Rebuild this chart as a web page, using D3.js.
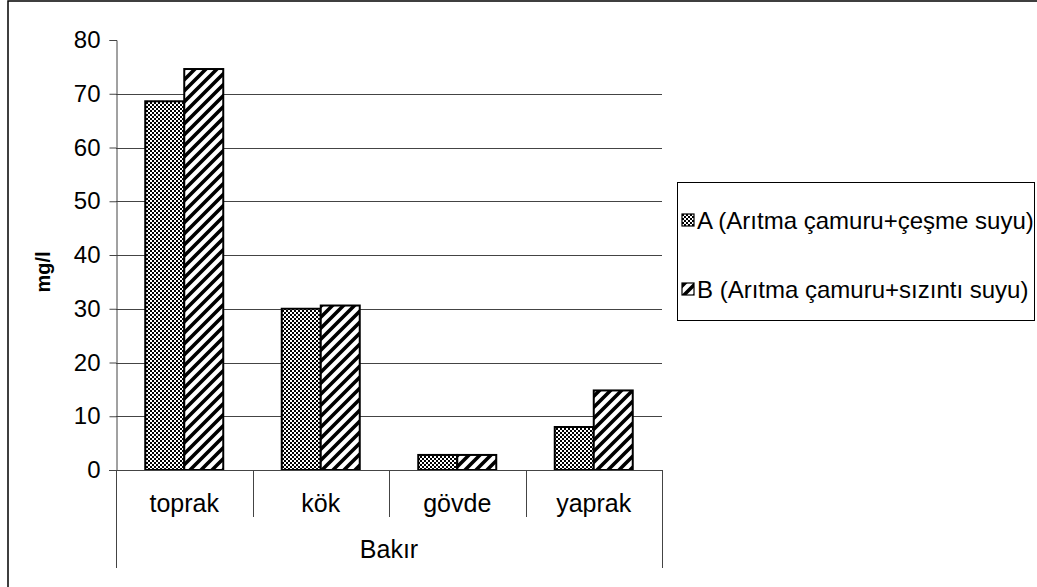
<!DOCTYPE html>
<html>
<head>
<meta charset="utf-8">
<script src="https://cdn.jsdelivr.net/npm/d3@7/dist/d3.min.js"></script>
<style>
  html, body { margin: 0; padding: 0; background: #fff; }
  svg { display: block; font-family: "Liberation Sans", Arial, sans-serif; }
</style>
</head>
<body>
<svg id="chart" width="1037" height="587"></svg>
<script>
// Copper (Bakır) concentration by plant part
const categories = ["toprak", "kök", "gövde", "yaprak"];
const seriesNames = ["A (Arıtma çamuru+çeşme suyu)", "B (Arıtma çamuru+sızıntı suyu)"];
const valuesA = [68.6, 30.0, 2.8, 8.0];
const valuesB = [74.6, 30.6, 2.8, 14.8];
const yTicks = [0, 10, 20, 30, 40, 50, 60, 70, 80];
const groupLabel = "Bakır";
const yLabel = "mg/l";

const svg = d3.select("#chart");
const W = 1037, H = 587;
const FS = 24;

// Patterns: fine checker for A, wide upward diagonal for B
const defs = svg.append("defs");
const chk = defs.append("pattern").attr("id", "pA")
  .attr("patternUnits", "userSpaceOnUse").attr("width", 4).attr("height", 4);
chk.append("rect").attr("width", 4).attr("height", 4).attr("fill", "#fff");
chk.append("rect").attr("width", 2).attr("height", 2).attr("fill", "#000");
chk.append("rect").attr("x", 2).attr("y", 2).attr("width", 2).attr("height", 2).attr("fill", "#000");

const dg = defs.append("pattern").attr("id", "pB")
  .attr("patternUnits", "userSpaceOnUse").attr("width", 11).attr("height", 11);
dg.append("rect").attr("width", 11).attr("height", 11).attr("fill", "#fff");
dg.append("path").attr("d", "M-3,14 L14,-3 M-14,14 L3,-3 M8,14 L25,-3")
  .attr("stroke", "#000").attr("stroke-width", 3.6);

const fills = ["url(#pA)", "url(#pB)"];

// Outer chart frame (extends past the right and bottom edges)
svg.append("rect").attr("x", 8).attr("y", 1).attr("width", W + 20).attr("height", H + 20)
  .attr("fill", "none").attr("stroke", "#000").attr("stroke-width", 1.5);

const plot = { left: 116, right: 662, top: 40, bottom: 470 };

const x = d3.scaleBand().domain(categories).range([plot.left, plot.right]).paddingInner(0).paddingOuter(0);
const y = d3.scaleLinear().domain([0, 80]).range([plot.bottom, plot.top]);
const bw = x.bandwidth() / 3.5;
const xs = d3.scaleBand().domain([0, 1]).range([0.75 * bw, 2.75 * bw]).padding(0);

// Gridlines
svg.append("g").selectAll("line").data(yTicks.filter(t => t > 0 && t < 80)).join("line")
  .attr("x1", plot.left).attr("x2", plot.right)
  .attr("y1", d => Math.round(y(d)) + 0.5).attr("y2", d => Math.round(y(d)) + 0.5)
  .attr("stroke", "#444").attr("stroke-width", 1);

// Y axis
const yAxis = svg.append("g").attr("transform", `translate(${plot.left + 0.5},0)`)
  .call(d3.axisLeft(y).tickValues(yTicks).tickSize(7).tickPadding(9).tickFormat(d3.format("d")));
yAxis.attr("font-size", null).attr("font-family", null);
yAxis.select(".domain").attr("stroke", "#444");
yAxis.selectAll(".tick line").attr("stroke", "#444");
yAxis.selectAll("text").style("font-size", FS + "px").attr("fill", "#000");

svg.append("text").attr("transform", `translate(43,272) rotate(-90)`)
  .attr("text-anchor", "middle").attr("dominant-baseline", "central")
  .style("font-size", "20px").style("font-weight", "bold").text(yLabel);

// Bars
const series = [valuesA, valuesB];
series.forEach((vals, si) => {
  svg.append("g").selectAll("rect").data(categories).join("rect")
    .attr("x", (c) => x(c) + xs(si))
    .attr("y", (c, i) => y(vals[i]))
    .attr("width", xs.bandwidth())
    .attr("height", (c, i) => y(0) - y(vals[i]))
    .attr("fill", fills[si]).attr("stroke", "#000").attr("stroke-width", 2);
});

// X axis line and category separators
const ax = svg.append("g").attr("stroke", "#444").attr("stroke-width", 1);
ax.append("line").attr("x1", plot.left - 7).attr("x2", plot.right)
  .attr("y1", plot.bottom + 0.5).attr("y2", plot.bottom + 0.5);
const seps = categories.map(c => x(c)).concat([plot.right]);
ax.selectAll("line.sep").data(seps).join("line").attr("class", "sep")
  .attr("x1", d => Math.round(d) + 0.5).attr("x2", d => Math.round(d) + 0.5)
  .attr("y1", plot.bottom)
  .attr("y2", (d, i) => (i === 0 || i === seps.length - 1) ? 568 : 517);

svg.append("g").selectAll("text").data(categories).join("text")
  .attr("x", d => x(d) + x.bandwidth() / 2).attr("y", 503)
  .attr("text-anchor", "middle").attr("dominant-baseline", "central")
  .style("font-size", "25px").text(d => d);

svg.append("text").attr("x", (plot.left + plot.right) / 2).attr("y", 549)
  .attr("text-anchor", "middle").attr("dominant-baseline", "central")
  .style("font-size", "25px").text(groupLabel);

// Legend
const lg = svg.append("g");
lg.append("rect").attr("x", 677.5).attr("y", 182.5).attr("width", 357).attr("height", 138)
  .attr("fill", "#fff").attr("stroke", "#000").attr("stroke-width", 1);
const ly = [220, 289];
seriesNames.forEach((name, i) => {
  lg.append("rect").attr("x", 682).attr("y", ly[i] - 6).attr("width", 12).attr("height", 12)
    .attr("fill", fills[i]).attr("stroke", "#000").attr("stroke-width", 1.2);
  lg.append("text").attr("x", 697).attr("y", ly[i]).attr("dominant-baseline", "central")
    .style("font-size", FS + "px").text(name);
});
</script>
</body>
</html>
